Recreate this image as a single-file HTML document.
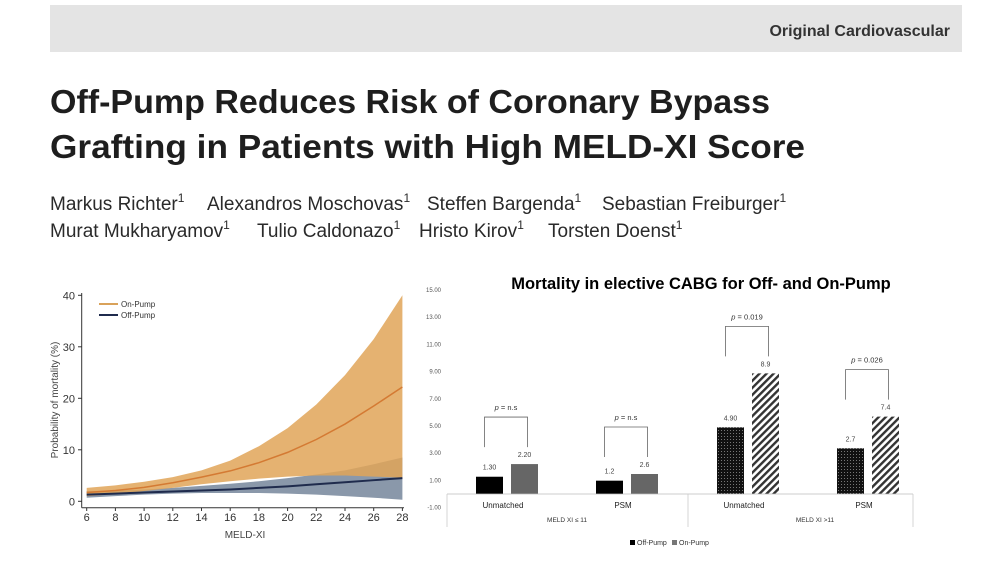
<!DOCTYPE html>
<html><head><meta charset="utf-8"><style>
html,body{margin:0;padding:0;background:#fff;width:1000px;height:562px;overflow:hidden}
svg{display:block;font-family:"Liberation Sans",sans-serif}
</style></head><body>
<svg id="s" width="1000" height="562" viewBox="0 0 1000 562">
<defs>
<pattern id="dots" width="3" height="3" patternUnits="userSpaceOnUse"><rect width="3" height="3" fill="#111"/><rect x="1" y="1" width="1" height="1" fill="#777"/></pattern>
<pattern id="hatch" width="5" height="5" patternUnits="userSpaceOnUse" patternTransform="rotate(45)"><rect width="5" height="5" fill="#fff"/><rect width="2.4" height="5" fill="#333"/></pattern>
</defs>
<rect x="50" y="5" width="912" height="47" fill="#e4e4e4"/>
<text x="950" y="36" text-anchor="end" font-size="16" font-weight="bold" fill="#333">Original Cardiovascular</text>
<g font-size="33" font-weight="bold" fill="#1e1e1e">
<text x="50" y="113" textLength="720" lengthAdjust="spacingAndGlyphs">Off-Pump Reduces Risk of Coronary Bypass</text>
<text x="50" y="158" textLength="755" lengthAdjust="spacingAndGlyphs">Grafting in Patients with High MELD-XI Score</text>
</g>
<g font-size="19" fill="#2a2a2a">
<text x="50" y="210">Markus Richter<tspan font-size="12" dy="-8">1</tspan></text>
<text x="207" y="210">Alexandros Moschovas<tspan font-size="12" dy="-8">1</tspan></text>
<text x="427" y="210">Steffen Bargenda<tspan font-size="12" dy="-8">1</tspan></text>
<text x="602" y="210">Sebastian Freiburger<tspan font-size="12" dy="-8">1</tspan></text>
<text x="50" y="237">Murat Mukharyamov<tspan font-size="12" dy="-8">1</tspan></text>
<text x="257" y="237">Tulio Caldonazo<tspan font-size="12" dy="-8">1</tspan></text>
<text x="419" y="237">Hristo Kirov<tspan font-size="12" dy="-8">1</tspan></text>
<text x="548" y="237">Torsten Doenst<tspan font-size="12" dy="-8">1</tspan></text>
</g>
<g id="left"></g>
<g id="right"></g>
</svg>
<script>
// ---- Left chart data ----
const meldX = [6,8,10,12,14,16,18,20,22,24,26,28];
const onMean = [1.7,2.1,2.7,3.6,4.7,5.9,7.5,9.5,12,15,18.5,22.2];
const onUpper = [2.6,3.1,3.8,4.7,6.0,7.9,10.7,14.2,18.8,24.5,31.5,40];
const onLower = [1.0,1.4,2.0,2.6,3.3,3.9,4.4,4.8,5.0,5.0,4.8,4.6];
const offMean = [1.3,1.5,1.7,1.9,2.1,2.3,2.6,2.9,3.3,3.7,4.1,4.5];
const offUpper = [2.0,2.1,2.3,2.6,3.0,3.4,3.9,4.5,5.2,6.0,7.2,8.5];
const offLower = [0.7,1.0,1.3,1.5,1.6,1.6,1.6,1.5,1.3,1.0,0.7,0.3];
const leftYTicks = [0,10,20,30,40];
const leftXTicks = [6,8,10,12,14,16,18,20,22,24,26,28];
// ---- Right chart data ----
const barCats = ["Unmatched","PSM","Unmatched","PSM"];
const barGroups = ["MELD XI \u2264 11","MELD XI >11"];
const offPumpVals = [1.27,0.98,4.9,3.36];
const onPumpVals = [2.2,1.47,8.87,5.69];
const offPumpLabels = ["1.30","1.2","4.90","2.7"];
const onPumpLabels = ["2.20","2.6","8.9","7.4"];
const pLabels = ["p = n.s","p = n.s","p = 0.019","p = 0.026"];
const rightYTicks = [-1,1,3,5,7,9,11,13,15];

const NS="http://www.w3.org/2000/svg";
function mk(parent,tag,attrs,txt){const e=document.createElementNS(NS,tag);for(const k in attrs)e.setAttribute(k,attrs[k]);if(txt!=null)e.textContent=txt;parent.appendChild(e);return e;}

// Left chart
const L=document.getElementById('left');
const lx=v=>86.7+(v-6)*14.35;
const ly=v=>501.3-v*5.15;
function band(up,lo){let d="M"+meldX.map((x,i)=>lx(x)+","+ly(up[i])).join("L");for(let i=meldX.length-1;i>=0;i--)d+="L"+lx(meldX[i])+","+ly(lo[i]);return d+"Z";}
function line(arr){return "M"+meldX.map((x,i)=>lx(x)+","+ly(arr[i])).join("L");}
let e;
e=mk(L,'path',{d:band(offUpper,offLower),fill:'#8a98aa'});


e=mk(L,'path',{d:band(onUpper,onLower),fill:'#e0a458','fill-opacity':'0.85'});


e=mk(L,'path',{d:line(onMean),fill:'none',stroke:'#d47a33','stroke-width':'1.5'});


e=mk(L,'path',{d:line(offMean),fill:'none',stroke:'#1f2b4d','stroke-width':'2'});


mk(L,'line',{x1:81.7,y1:293,x2:81.7,y2:507.7,stroke:'#333','stroke-width':1});
mk(L,'line',{x1:81.7,y1:507.7,x2:404,y2:507.7,stroke:'#333','stroke-width':1});
leftYTicks.forEach(t=>{mk(L,'line',{x1:78,x2:81.7,y1:ly(t),y2:ly(t),stroke:'#333'});
 e=mk(L,'text',{x:75,y:ly(t)+4,'text-anchor':'end','font-size':11,fill:'#333'},t);
 
 });
leftXTicks.forEach(t=>{mk(L,'line',{x1:lx(t),x2:lx(t),y1:507.7,y2:511,stroke:'#333'});
 e=mk(L,'text',{x:lx(t),y:521,'text-anchor':'middle','font-size':11,fill:'#333'},t);
 
 });
e=mk(L,'text',{x:245,y:538,'text-anchor':'middle','font-size':10,fill:'#444'},'MELD-XI');


e=mk(L,'text',{x:0,y:0,transform:'translate(58,400) rotate(-90)','text-anchor':'middle','font-size':10,fill:'#444'},'Probability of mortality (%)');


mk(L,'line',{x1:99,x2:118,y1:304,y2:304,stroke:'#d9a25a','stroke-width':2});
e=mk(L,'text',{x:121,y:307,'font-size':8,fill:'#333'},'On-Pump');


mk(L,'line',{x1:99,x2:118,y1:315,y2:315,stroke:'#1f2b4d','stroke-width':2});
e=mk(L,'text',{x:121,y:318,'font-size':8,fill:'#333'},'Off-Pump');



// Right chart
const R=document.getElementById('right');
const ry=v=>494-v*13.6;
const catCenters=[507,627,748,868];
const bw=27;
e=mk(R,'text',{x:701,y:289,'text-anchor':'middle','font-size':16.5,'font-weight':'bold',fill:'#000'},'Mortality in elective CABG for Off- and On-Pump');


rightYTicks.forEach(t=>{e=mk(R,'text',{x:441,y:ry(t)+2,'text-anchor':'end','font-size':6,fill:'#555'},t.toFixed(2));
 
 });
barCats.forEach((c,i)=>{
 const cx=catCenters[i];
 const x1=cx-31,x2=cx+4;
 const hi=i>=2;
 e=mk(R,'rect',{x:x1,y:ry(offPumpVals[i]),width:bw,height:ry(0)-ry(offPumpVals[i]),fill:hi?'url(#dots)':'#000'});
 
 
 e=mk(R,'rect',{x:x2,y:ry(onPumpVals[i]),width:bw,height:ry(0)-ry(onPumpVals[i]),fill:hi?'url(#hatch)':'#666'});
 
 
 e=mk(R,'text',{x:x1+bw/2,y:ry(offPumpVals[i])-7,'text-anchor':'middle','font-size':7,fill:'#444'},offPumpLabels[i]);
 
 
 e=mk(R,'text',{x:x2+bw/2,y:ry(onPumpVals[i])-7,'text-anchor':'middle','font-size':7,fill:'#444'},onPumpLabels[i]);
 
 
 // bracket
 const bl=x1+bw/2-5, br=x2+bw/2+3;
 const top=ry(Math.max(offPumpVals[i],onPumpVals[i]))-47;
 const leftBottom=Math.min(ry(offPumpVals[i])-20, top+30);
 const rightBottom=ry(onPumpVals[i])-17;
 const br_el=mk(R,'path',{d:`M${bl},${leftBottom}V${top}H${br}V${rightBottom}`,fill:'none',stroke:'#666','stroke-width':0.8});
 
 
 const pt=mk(R,'text',{x:(bl+br)/2,y:top-7,'text-anchor':'middle','font-size':7.5,fill:'#333'});
 mk(pt,'tspan',{'font-style':'italic'},'p');
 mk(pt,'tspan',{},pLabels[i].slice(1));
 
 
 e=mk(R,'text',{x:cx-4,y:508,'text-anchor':'middle','font-size':8,fill:'#222'},c);
 
 
});
mk(R,'line',{x1:447,x2:913,y1:494,y2:494,stroke:'#bbb','stroke-width':0.8});
[447,688,913].forEach(x=>mk(R,'line',{x1:x,x2:x,y1:494,y2:527,stroke:'#ccc','stroke-width':0.8}));
barGroups.forEach((g,i)=>{e=mk(R,'text',{x:i?815:567,y:522,'text-anchor':'middle','font-size':6.5,fill:'#333'},g);
 
 });
mk(R,'rect',{x:630,y:540,width:5,height:5,fill:'#000'});
e=mk(R,'text',{x:637,y:545,'font-size':7,fill:'#333'},'Off-Pump');


mk(R,'rect',{x:672,y:540,width:5,height:5,fill:'#777'});
e=mk(R,'text',{x:679,y:545,'font-size':7,fill:'#333'},'On-Pump');


</script>
</body></html>
